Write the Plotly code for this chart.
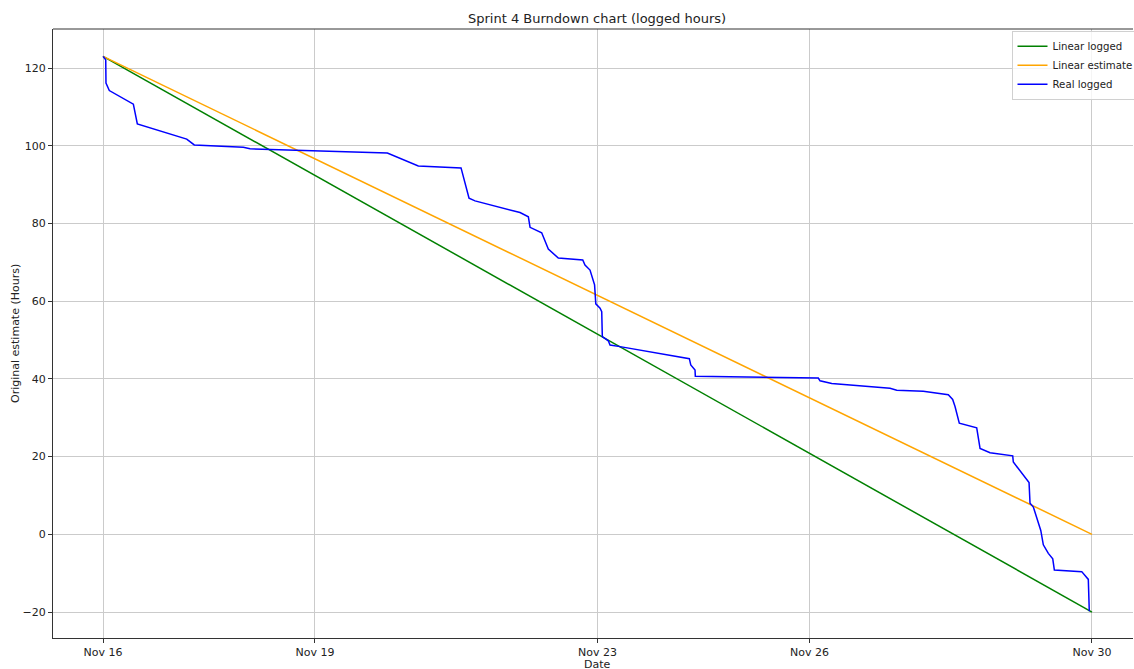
import plotly.graph_objects as go

# ---- data ----
linear_dates = ["2023-11-16 00:00", "2023-11-30 00:00"]
linear_logged = [123, -20]
linear_estimate = [123, 0]

real_dates = [
    "2023-11-16 00:00", "2023-11-16 00:55", "2023-11-16 01:00", "2023-11-16 02:08",
    "2023-11-16 10:18", "2023-11-16 11:39", "2023-11-17 04:26", "2023-11-17 07:00",
    "2023-11-17 23:40", "2023-11-18 01:56", "2023-11-20 00:36", "2023-11-20 11:07",
    "2023-11-21 01:38", "2023-11-21 03:20", "2023-11-21 04:21", "2023-11-21 06:23",
    "2023-11-21 21:40", "2023-11-22 00:30", "2023-11-22 01:05", "2023-11-22 05:02",
    "2023-11-22 07:17", "2023-11-22 10:41", "2023-11-22 18:59", "2023-11-22 19:45",
    "2023-11-22 21:27", "2023-11-22 23:00", "2023-11-22 23:25", "2023-11-23 00:52",
    "2023-11-23 01:26", "2023-11-23 01:38", "2023-11-23 03:40", "2023-11-23 04:15",
    "2023-11-23 07:39", "2023-11-24 07:12", "2023-11-24 07:41", "2023-11-24 09:08",
    "2023-11-24 09:14", "2023-11-26 03:01", "2023-11-26 03:36", "2023-11-26 07:35",
    "2023-11-27 03:23", "2023-11-27 05:40", "2023-11-27 14:41", "2023-11-27 23:11",
    "2023-11-28 00:40", "2023-11-28 01:28", "2023-11-28 02:55", "2023-11-28 08:50",
    "2023-11-28 09:58", "2023-11-28 13:22", "2023-11-28 21:04", "2023-11-28 21:16",
    "2023-11-29 02:37", "2023-11-29 02:57", "2023-11-29 04:05", "2023-11-29 06:36",
    "2023-11-29 07:28", "2023-11-29 09:10", "2023-11-29 10:40", "2023-11-29 11:13",
    "2023-11-29 20:31", "2023-11-29 22:45", "2023-11-29 23:05",
]
real_logged = [
    123.0, 122.1, 116.1, 114.2,
    110.7, 105.6, 101.7, 100.2,
    99.6, 99.2, 98.1, 94.8,
    94.3, 89.6, 86.5, 85.8,
    82.8, 81.7, 79.0, 77.6,
    73.4, 71.1, 70.6, 69.3,
    68.0, 64.2, 59.3, 58.2,
    57.3, 50.9, 49.8, 48.7,
    48.3, 45.2, 43.6, 42.3,
    40.7, 40.2, 39.5, 38.8,
    37.6, 37.1, 36.8, 35.9,
    34.7, 32.9, 28.6, 27.4,
    22.1, 21.0, 20.2, 18.6,
    13.3, 8.0, 7.0, 1.0,
    -2.7, -4.9, -6.3, -9.2,
    -9.6, -11.6, -19.8,
]

x_tick_vals = ["2023-11-16", "2023-11-19", "2023-11-23", "2023-11-26", "2023-11-30"]
x_tick_text = ["Nov 16", "Nov 19", "Nov 23", "Nov 26", "Nov 30"]
y_tick_vals = [-20, 0, 20, 40, 60, 80, 100, 120]

title = "Sprint 4 Burndown chart (logged hours)"
x_title = "Date"
y_title = "Original estimate (Hours)"

# ---- figure ----
FONT = "DejaVu Sans"
fig = go.Figure()
fig.add_trace(go.Scatter(x=linear_dates, y=linear_logged, mode="lines", name="Linear logged",
                         line=dict(color="green", width=1.5)))
fig.add_trace(go.Scatter(x=linear_dates, y=linear_estimate, mode="lines", name="Linear estimate",
                         line=dict(color="orange", width=1.5)))
fig.add_trace(go.Scatter(x=real_dates, y=real_logged, mode="lines", name="Real logged",
                         line=dict(color="blue", width=1.5)))

axis_common = dict(
    showgrid=True, gridcolor="#cbcbcb", gridwidth=1,
    showline=True, linecolor="#333333", linewidth=1,
    ticks="outside", ticklen=4, tickcolor="#333333", tickwidth=1,
    zeroline=False, automargin=False,
    tickfont=dict(family=FONT, size=11, color="#222222"),
)

fig.update_layout(
    width=1134, height=669,
    margin=dict(l=53, r=1, t=29, b=31, autoexpand=False),
    paper_bgcolor="white", plot_bgcolor="white",
    font=dict(family=FONT, size=11, color="#222222"),
    title=dict(text=title, x=0.5265, xanchor="center",
               y=0.973, yanchor="middle", font=dict(family=FONT, size=13, color="#222222")),
    xaxis=dict(**axis_common, type="date",
               range=["2023-11-15 07:00", "2023-11-30 13:56"],
               tickvals=x_tick_vals, ticktext=x_tick_text),
    yaxis=dict(**axis_common, range=[-26.68, 130.04], tickvals=y_tick_vals),
    legend=dict(x=0.8875, y=0.997, xanchor="left", yanchor="top",
                bgcolor="rgba(255,255,255,0.8)", bordercolor="#d0d0d0", borderwidth=1,
                font=dict(family=FONT, size=10.2, color="#222222"),
                tracegroupgap=0, itemwidth=30),
    showlegend=True,
)

# axis titles placed like matplotlib's
fig.add_annotation(text=x_title, xref="paper", yref="paper", x=0.504, y=-0.0427,
                   xanchor="center", yanchor="middle", showarrow=False,
                   font=dict(family=FONT, size=11, color="#222222"))
fig.add_annotation(text=y_title, xref="paper", yref="paper", x=-0.0352, y=0.5008,
                   xanchor="center", yanchor="middle", showarrow=False, textangle=-90,
                   font=dict(family=FONT, size=11, color="#222222"))

# top spine only (matplotlib-like, right spine falls outside the picture)
fig.add_shape(type="line", xref="paper", yref="paper", x0=0, x1=1, y0=1, y1=1,
              line=dict(color="#333333", width=1))

fig.write_html("out.html", config={"displayModeBar": False},
               post_script="document.body.style.margin='0';")
